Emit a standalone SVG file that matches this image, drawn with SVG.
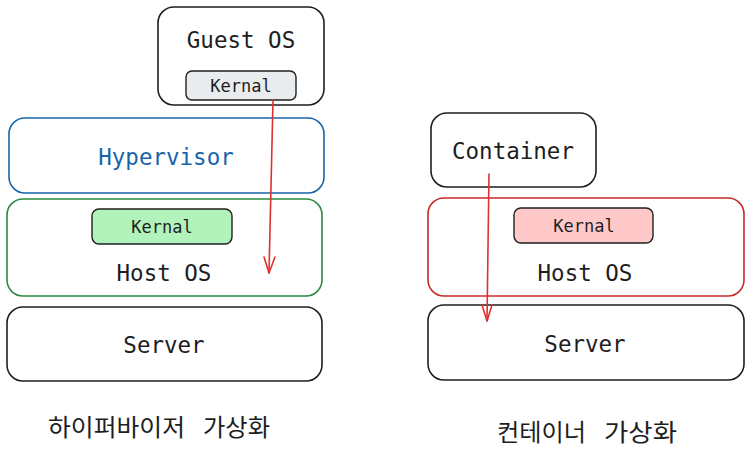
<svg xmlns="http://www.w3.org/2000/svg" width="750" height="449" viewBox="0 0 750 449">
<defs>
<style>
.box{fill:#ffffff;stroke:#1e1e1e;stroke-width:1.6}
.inner{stroke:#1e1e1e;stroke-width:1.4}
.t{font-family:"DejaVu Sans Mono","Liberation Mono",monospace;font-size:22.5px;fill:#1e1e1e;text-anchor:middle;dominant-baseline:central}
.s{font-family:"DejaVu Sans Mono","Liberation Mono",monospace;font-size:17px;fill:#1e1e1e;text-anchor:middle;dominant-baseline:central}
.k{font-family:"Noto Sans CJK KR","Noto Sans",sans-serif;font-size:24px;fill:#1e1e1e;dominant-baseline:central}
.arrow{fill:none;stroke:#e03131;stroke-width:1.6;stroke-linecap:round;stroke-linejoin:round}
</style>
</defs>
<rect width="750" height="449" fill="#ffffff"/>
<g id="guest-os">
<rect class="box" x="158" y="7" width="166" height="98" rx="16"/>
<text class="t" x="241" y="40">Guest OS</text>
<rect class="inner" x="186" y="71" width="110" height="29" rx="6" fill="#e9ecef"/>
<text class="s" x="241" y="86">Kernal</text>
</g>
<g id="hypervisor">
<rect class="box" x="9" y="118" width="315" height="75" rx="16" style="stroke:#1864ab"/>
<text class="t" x="166" y="157" style="fill:#1864ab">Hypervisor</text>
</g>
<g id="host-os-left">
<rect class="box" x="7" y="199" width="315" height="97" rx="16" style="stroke:#2b8a3e"/>
<rect class="inner" x="92" y="209" width="140" height="35" rx="7" fill="#b2f2bb"/>
<text class="s" x="162" y="227">Kernal</text>
<text class="t" x="164" y="273">Host OS</text>
</g>
<g id="server-left">
<rect class="box" x="7" y="307" width="315" height="74" rx="16"/>
<text class="t" x="164" y="345">Server</text>
</g>
<g id="container">
<rect class="box" x="431" y="113" width="165" height="74" rx="16"/>
<text class="t" x="513" y="151">Container</text>
</g>
<g id="host-os-right">
<rect class="box" x="428" y="198" width="316" height="98" rx="16" style="stroke:#c92a2a"/>
<rect class="inner" x="514" y="208" width="139" height="35" rx="7" fill="#ffc9c9"/>
<text class="s" x="584" y="226">Kernal</text>
<text class="t" x="585" y="273">Host OS</text>
</g>
<g id="server-right">
<rect class="box" x="428" y="305" width="316" height="75" rx="16"/>
<text class="t" x="585" y="344">Server</text>
</g>
<g id="connectors">
<path class="arrow" d="M273 100 L269 273"/>
<path class="arrow" d="M264 257 L269 273 L275 257"/>
<path class="arrow" d="M489 174 L487 321"/>
<path class="arrow" d="M482 305 L487 321 L492 305"/>
</g>
<g id="labels">
<text class="k" x="48" y="425" textLength="137" lengthAdjust="spacingAndGlyphs">하이퍼바이저</text>
<text class="k" x="203" y="425" textLength="67" lengthAdjust="spacingAndGlyphs">가상화</text>
<text class="k" x="497" y="430" textLength="89" lengthAdjust="spacingAndGlyphs">컨테이너</text>
<text class="k" x="604" y="430" textLength="73" lengthAdjust="spacingAndGlyphs">가상화</text>
</g>
</svg>
